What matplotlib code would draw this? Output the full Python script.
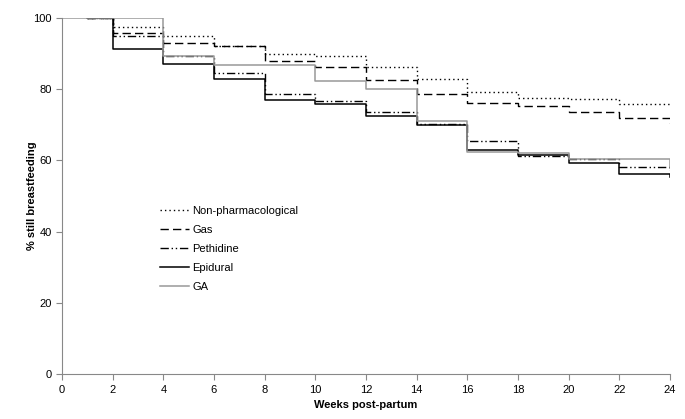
import matplotlib.pyplot as plt

plt.rcParams['font.family'] = ['Liberation Sans', 'DejaVu Sans']

# weeks at which each step starts (last point = final drop at week 24)
weeks = [1, 2, 4, 6, 8, 10, 12, 14, 16, 18, 20, 22, 24]
weeks_ga = [0, 4, 6, 8, 10, 12, 14, 16, 18, 20, 22, 24]

non_pharm = [100, 97.6, 94.9, 92.2, 90.0, 89.3, 86.3, 83.0, 79.3, 77.6, 77.2, 75.8, 75.8]
gas = [100, 95.7, 93.0, 92.2, 88.0, 86.2, 82.6, 78.8, 76.0, 75.3, 73.5, 72.0, 70.6]
pethidine = [100, 95.0, 89.4, 84.5, 78.8, 76.8, 73.7, 70.3, 65.4, 61.3, 60.4, 58.1, 57.4]
epidural = [100, 91.3, 87.0, 83.0, 77.0, 75.8, 72.5, 70.1, 63.0, 61.5, 59.2, 56.2, 55.3]
ga = [100, 89.4, 86.8, 86.8, 82.4, 80.2, 71.2, 62.5, 62.2, 60.4, 60.3, 57.9]

fig = plt.figure(figsize=(6.85, 4.19), dpi=100)
ax = fig.add_axes([0.0905, 0.107, 0.8875, 0.85])

ax.step(weeks, non_pharm, where='post', color='black', lw=1, dashes=(1, 2.2), label='Non-pharmacological')
ax.step(weeks, gas, where='post', color='black', lw=1, dashes=(6, 3), label='Gas')
ax.step(weeks, pethidine, where='post', color='black', lw=1, dashes=(6, 2, 1, 2, 1, 2), label='Pethidine')
ax.step(weeks, epidural, where='post', color='black', lw=1.1, label='Epidural')
ax.step(weeks_ga, ga, where='post', color='#999999', lw=1.1, label='GA')

ax.set_xlim(0, 24)
ax.set_ylim(0, 100)
ax.set_xticks(range(0, 25, 2))
ax.set_yticks(range(0, 101, 20))
for s in ['top', 'right']:
    ax.spines[s].set_visible(False)
for s in ['left', 'bottom']:
    ax.spines[s].set_color('#888888')
    ax.spines[s].set_linewidth(0.8)
ax.tick_params(colors='#888888', labelcolor='black', labelsize=8, length=4, width=0.8)

ax.set_xlabel('Weeks post-partum', fontsize=8, fontweight='bold', labelpad=4)
ax.set_ylabel('% still breastfeeding', fontsize=8, fontweight='bold', labelpad=-3)

ax.legend(loc='upper left', bbox_to_anchor=(0.145, 0.5), frameon=False, fontsize=8,
          handlelength=2.6, handletextpad=0.3, labelspacing=0.8)

fig.savefig('out.png', dpi=100)
